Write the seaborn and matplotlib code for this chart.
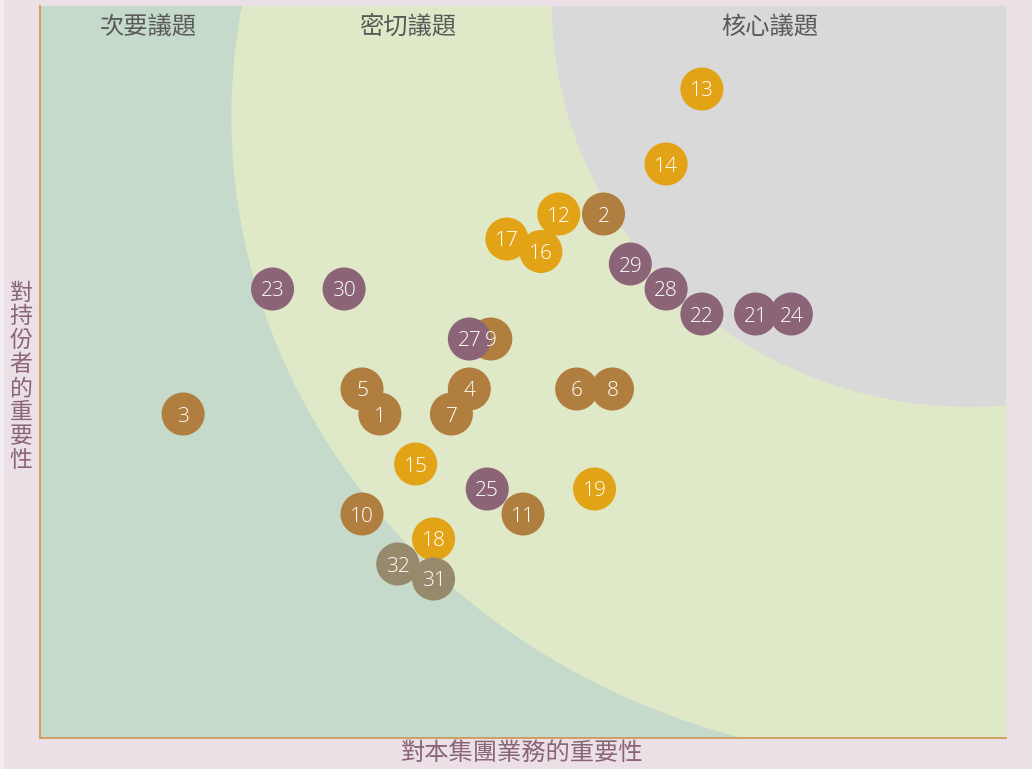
import matplotlib
matplotlib.use("Agg")
import matplotlib.pyplot as plt
import seaborn as sns
import pandas as pd
from matplotlib.patches import Ellipse, Rectangle

# ---------------- data ----------------
issue_ids = ["3", "5", "1", "10", "4", "7", "9", "11", "2", "6", "8",
             "13", "14", "12", "17", "16", "15", "19", "18",
             "23", "30", "27", "25", "29", "28", "22", "21", "24",
             "32", "31"]
business_importance = [0.80, 1.80, 1.90, 1.80, 2.40, 2.30, 2.52, 2.70, 3.15, 3.00, 3.20,
                       3.70, 3.50, 2.90, 2.61, 2.80, 2.10, 3.10, 2.20,
                       1.30, 1.70, 2.40, 2.50, 3.30, 3.50, 3.70, 4.00, 4.20,
                       2.00, 2.20]
stakeholder_importance = [1.30, 1.40, 1.30, 0.90, 1.40, 1.30, 1.60, 0.90, 2.10, 1.40, 1.40,
                          2.60, 2.30, 2.10, 2.00, 1.95, 1.10, 1.00, 0.80,
                          1.80, 1.80, 1.60, 1.00, 1.90, 1.80, 1.70, 1.70, 1.70,
                          0.70, 0.64]
issue_group = ["A"] * 11 + ["B"] * 8 + ["C"] * 9 + ["D"] * 2
group_colors = {"A": "#b07e3e", "B": "#e2a316", "C": "#8b6478", "D": "#978a6c"}

zone_labels = ["次要議題", "密切議題", "核心議題"]
x_label = "對本集團業務的重要性"
y_label = "對持份者的重要性"

df = pd.DataFrame({"id": issue_ids, "x": business_importance,
                   "y": stakeholder_importance, "group": issue_group})

# ---------------- style ----------------
sns.set_style("white")
plt.rcParams["font.family"] = ["Noto Sans CJK TC", "DejaVu Sans"]

PINK = "#eae0e6"
fig = plt.figure(figsize=(10.32, 7.69), dpi=100, facecolor=PINK)
fig.patches.append(Rectangle((0, 0), 4 / 1032, 1, transform=fig.transFigure,
                             facecolor="#f2edf1", edgecolor="none", zorder=0))
ax = fig.add_axes([40 / 1032, 31 / 769, 966 / 1032, 732 / 769])
ax.set_xlim(0, 5.4)
ax.set_ylim(0.004, 2.932)
ax.set_facecolor("#c5dacb")

# zone shapes
ax.add_patch(Ellipse((4.983, 2.490), 7.826, 5.164, facecolor="#dfe9c8",
                     edgecolor="none", zorder=1))
ax.add_patch(Ellipse((5.198, 2.934), 4.673, 3.211, facecolor="#d9d9d9",
                     edgecolor="none", zorder=1.5))

sns.scatterplot(data=df, x="x", y="y", hue="group", palette=group_colors,
                s=960, linewidth=0, edgecolor="none", alpha=1.0,
                legend=False, ax=ax, zorder=3)

for _, r in df.iterrows():
    ax.text(r["x"], r["y"], r["id"], ha="center", va="center_baseline", color="white",
            fontsize=15, family=["Open Sans", "DejaVu Sans"], fontweight="light",
            zorder=5)

zone_x = [0.1118, 0.381, 0.7557]
for lbl, xx in zip(zone_labels, zone_x):
    ax.text(xx, 0.972, lbl, transform=ax.transAxes, ha="center", va="center",
            fontsize=17.5, color="#595959", fontweight="light", zorder=6)

ax.set_xlabel(x_label, fontsize=17.5, color="#8b6479", fontweight="medium")
ax.xaxis.set_label_coords(0.4995, -0.002)
ax.xaxis.label.set_va("top")

ax.set_ylabel("\n".join(y_label), fontsize=16.5, color="#8b6479", rotation=0,
              fontweight="medium", linespacing=1.05)
ax.yaxis.set_label_coords(-0.0197, 0.4936)
ax.yaxis.label.set_va("center")
ax.yaxis.label.set_ha("center")

ax.set_xticks([])
ax.set_yticks([])
for side in ["top", "right"]:
    ax.spines[side].set_visible(False)
for side in ["left", "bottom"]:
    ax.spines[side].set_color("#cf9a5c")
    ax.spines[side].set_linewidth(1.3)
    ax.spines[side].set_zorder(4)

fig.savefig("out.png", dpi=100, facecolor=PINK)
